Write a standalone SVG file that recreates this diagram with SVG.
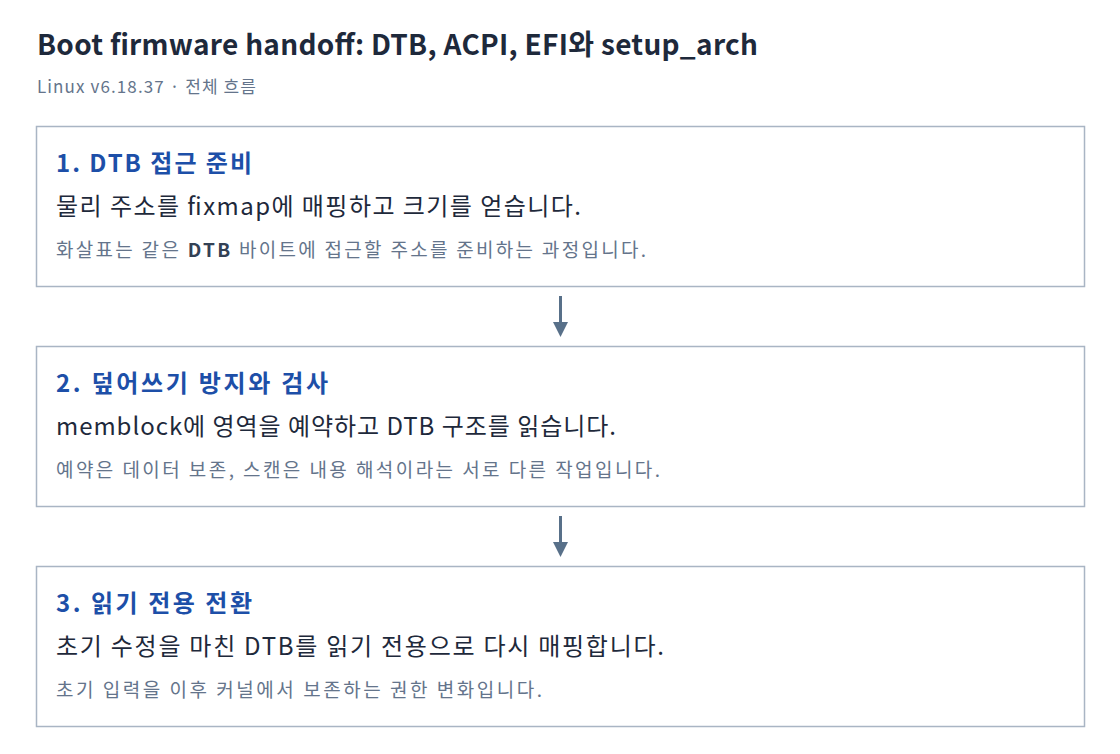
<svg xmlns="http://www.w3.org/2000/svg" width="1120" height="754" viewBox="0 0 1120 754">
<style>
text{font-family:"Noto Sans CJK KR","Noto Sans",sans-serif}
.title{font-size:28px;font-weight:700;fill:#1e293b}
.sub{font-size:17px;fill:#64748b}
.box{fill:#ffffff;stroke:#a9b5c4;stroke-width:1.5}
.h{font-size:24px;font-weight:700;fill:#1d4fa8}
.m{font-size:24px;fill:#1e293b}
.n{font-size:19px;fill:#64748b}
.n tspan{fill:#334155;font-weight:600}
.conn{stroke:#587089;stroke-width:3;fill:none}
</style>
<defs>
<marker id="ah" viewBox="0 0 10 10" refX="0" refY="5" markerWidth="17" markerHeight="15" markerUnits="userSpaceOnUse" orient="auto">
<path d="M0,0 L10,5 L0,10 z" fill="#587089"/>
</marker>
</defs>
<rect width="1120" height="754" fill="#ffffff"/>
<text class="title" x="37" y="55" textLength="721" lengthAdjust="spacing">Boot firmware handoff: DTB, ACPI, EFI와 setup_arch</text>
<text class="sub" x="37" y="93" textLength="219" lengthAdjust="spacing">Linux v6.18.37 · 전체 흐름</text>
<g id="node1">
<rect class="box" x="36.5" y="126.5" width="1048" height="160"/>
<text class="h" x="56" y="172" textLength="196" lengthAdjust="spacing">1. DTB 접근 준비</text>
<text class="m" x="56" y="215" textLength="525" lengthAdjust="spacing">물리 주소를 fixmap에 매핑하고 크기를 얻습니다.</text>
<text class="n" x="56" y="257" textLength="590" lengthAdjust="spacing">화살표는 같은 <tspan>DTB</tspan> 바이트에 접근할 주소를 준비하는 과정입니다.</text>
</g>
<g id="node2">
<rect class="box" x="36.5" y="346.5" width="1048" height="160"/>
<text class="h" x="56" y="392" textLength="272" lengthAdjust="spacing">2. 덮어쓰기 방지와 검사</text>
<text class="m" x="56" y="435" textLength="560" lengthAdjust="spacing">memblock에 영역을 예약하고 DTB 구조를 읽습니다.</text>
<text class="n" x="56" y="477" textLength="604" lengthAdjust="spacing">예약은 데이터 보존, 스캔은 내용 해석이라는 서로 다른 작업입니다.</text>
</g>
<g id="node3">
<rect class="box" x="36.5" y="566.5" width="1048" height="160"/>
<text class="h" x="56" y="612" textLength="196" lengthAdjust="spacing">3. 읽기 전용 전환</text>
<text class="m" x="56" y="655" textLength="608" lengthAdjust="spacing">초기 수정을 마친 DTB를 읽기 전용으로 다시 매핑합니다.</text>
<text class="n" x="56" y="697" textLength="486" lengthAdjust="spacing">초기 입력을 이후 커널에서 보존하는 권한 변화입니다.</text>
</g>
<g id="connectors">
<line class="conn" x1="560.5" y1="296" x2="560.5" y2="322" marker-end="url(#ah)"/>
<line class="conn" x1="560.5" y1="516" x2="560.5" y2="542" marker-end="url(#ah)"/>
</g>
</svg>
